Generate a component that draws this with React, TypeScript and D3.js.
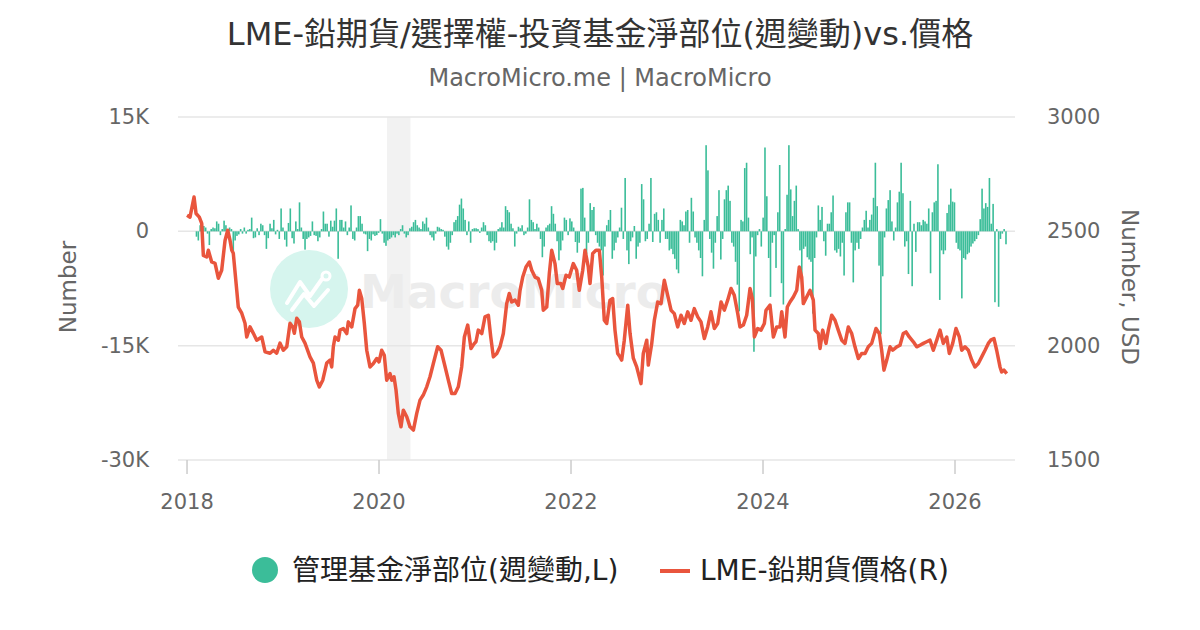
import * as d3 from "d3";

const title = "LME-鉛期貨/選擇權-投資基金淨部位(週變動)vs.價格";
const subtitle = "MacroMicro.me | MacroMicro";
const barName = "管理基金淨部位(週變動,L)";
const lineName = "LME-鉛期貨價格(R)";

// weekly net position change of managed funds, in thousands of contracts
const barStart = "2018-02-06";
const bars2018 = [-0.7, -1.2, 0.8, 0.6, 0.7, 0.5, -0.3, -1.8, 0.3, 0.5, 0.4, 1.3, 1.0, -0.5, 0.3, 1.4, 0.8, -0.2, 0.5, 0.3, -2.9, -1.2, -0.6, -0.4, 0.3, -0.3, 0.5, -0.3, 0.2, 0.3, 1.8, -0.9, -0.8, 0.4, -0.5, 1.0, 0.8, -0.5, -2.3, -0.9, 1.0, 0.4, 1.5, -0.4, 0.2, -1.0, 3.0];
const bars2019 = [0.5, -1.1, -2.0, 1.1, 3.0, -0.9, -1.6, 1.3, 0.3, 3.8, 0.5, -1.0, -2.4, -1.0, -0.8, -0.6, 1.3, -0.5, -0.6, -1.3, -0.8, 0.3, 2.6, 1.0, 1.0, -0.7, 1.4, 0.6, 1.4, 3.0, -3.6, 1.5, 1.5, 0.5, 1.3, -0.5, 0.5, 3.4, -1.0, -1.2, 0.5, 2.0, 2.0, 1.0, -0.3, -0.4, -2.6, -1.0, -1.2, -0.4, -0.6, -0.5];
const bars2020 = [-0.2, 1.6, -0.3, -1.5, -1.9, -1.2, -1.0, -0.8, -0.5, -0.8, -0.3, -0.5, 0.3, 0.8, -0.3, -0.8, -0.5, 0.4, 0.6, 1.2, 1.5, 0.8, 0.5, 0.3, 1.3, 1.0, 1.8, 0.5, -0.5, -0.8, -1.2, -0.3, 0.6, 0.5, 0.3, 0.2, -0.7, -2.0, -2.4, -1.5, -0.5, 1.2, 1.5, 2.0, 3.5, 4.3, 3.0, 1.5, -0.5, 1.3, -1.5, 0.3];
const bars2021 = [0.4, 0.4, 0.3, -0.2, 0.5, 1.2, 0.8, -0.5, -1.3, -1.5, -1.3, -2.5, -1.5, 0.3, 0.5, 1.2, 0.5, 3.3, 2.8, 2.5, 1.0, 0.4, -2.0, -0.3, 0.6, 0.4, 0.8, -0.5, -0.3, 0.5, 4.2, 1.5, 1.2, 0.3, 1.0, 0.5, -1.0, -3.4, -2.0, 0.5, 0.8, 1.0, 3.3, 2.3, 1.0, -1.3, -3.8, -2.5, -1.2, 1.8, 1.5, -0.5];
const bars2022 = [1.7, 1.3, 0.5, -1.4, -2.8, -1.5, 5.6, 5.7, 1.8, -3.0, -1.5, 3.7, 2.8, 3.2, -0.5, -1.5, -2.0, -2.5, -5.8, -2.0, 0.8, 1.5, 2.8, -3.6, -2.5, -1.5, -0.8, 0.5, 3.1, -1.0, 7.0, -2.5, -4.3, -1.3, -0.8, 0.7, -3.6, -2.0, -1.5, 6.2, 4.2, -1.3, -1.0, 1.0, 7.0, -1.4, 2.3, 2.5, 1.5, -1.5, 1.5, 3.0];
const bars2023 = [-1.0, -1.0, -2.5, -2.3, -3.0, -3.6, -5.0, -5.5, 1.5, 1.3, 0.8, 2.6, 2.8, -1.5, 4.4, 2.6, -0.8, -1.5, -2.5, -3.5, -5.9, 1.5, 11.3, 8.0, -1.0, -2.8, -4.9, -1.5, 2.0, 5.4, -3.7, -1.0, 4.2, 5.4, 6.0, 4.0, -1.5, -2.0, -4.0, -7.0, -10.5, 1.5, 1.3, 8.3, 9.0, 1.8, -3.0, -0.8, -15.8, -3.3, -0.5, 0.3];
const bars2024 = [-2.0, 1.8, 11.0, 4.6, -3.5, -8.6, -1.5, -0.5, -4.8, 2.5, 8.7, -6.8, -9.6, 0.3, 4.8, 11.3, 5.5, 2.0, 4.0, 6.0, 0.3, -2.5, -6.3, -2.3, -2.0, -3.4, -3.7, -4.0, -10.8, -3.5, -0.8, 3.4, 1.5, 3.2, -1.3, -3.2, 1.0, 1.0, 2.5, 4.7, -2.5, -2.8, -2.3, -3.3, -1.5, -5.8, 2.5, 3.8, 3.8, -1.5, -6.7, -2.5];
const bars2025 = [-1.5, -2.3, -1.0, 0.5, 1.5, 2.7, 0.5, 1.5, 2.2, 4.4, 9.0, 3.3, -4.5, -13.5, -5.9, -0.8, 3.0, 4.1, 5.4, 1.3, -1.2, 0.5, 3.8, 5.2, 9.0, 5.0, -2.0, -1.3, -5.6, 4.0, -7.2, 1.0, -2.7, 1.2, 1.2, 0.8, 1.5, 1.3, 1.0, 3.0, -5.5, 2.5, 3.8, 4.0, 8.8, -9.0, -2.5, -3.0, -2.5, 2.4, 3.5, 5.6];
const bars2026 = [3.9, 3.8, -1.5, -2.3, -2.5, -8.8, -3.5, -3.7, -3.0, -2.8, -2.0, -1.6, -1.3, -1.0, -0.5, 1.6, 5.6, 3.0, 3.7, 3.2, 7.0, 1.0, 3.6, -9.3, 0.3, -9.9, -1.0, -0.3, 0.3, -1.7];

// LME lead price, USD: [decimal year, price]
const leadPrice: [number, number][] = [
  [2018.000, 2570], [2018.031, 2562], [2018.073, 2650], [2018.094, 2578], [2018.128, 2562], [2018.153, 2535], [2018.170, 2395], [2018.205, 2388], [2018.222, 2417], [2018.257, 2366], [2018.292, 2360], [2018.326, 2295], [2018.361, 2330], [2018.396, 2460], [2018.424, 2505], [2018.448, 2460], [2018.466, 2417], [2018.482, 2404], [2018.518, 2242], [2018.534, 2169], [2018.570, 2142], [2018.604, 2098], [2018.622, 2038], [2018.656, 2082], [2018.691, 2054], [2018.726, 2024], [2018.778, 2038], [2018.813, 1973], [2018.865, 1967], [2018.899, 1980], [2018.934, 1967], [2018.969, 2011],
  [2019.003, 1980], [2019.039, 1995], [2019.073, 2098], [2019.101, 2082], [2019.118, 2054], [2019.143, 2120], [2019.170, 2104], [2019.195, 2038], [2019.229, 2011], [2019.281, 1951], [2019.316, 1924], [2019.351, 1849], [2019.378, 1820], [2019.414, 1849], [2019.455, 1924], [2019.490, 1937], [2019.507, 1907], [2019.524, 1995], [2019.542, 2038], [2019.576, 2024], [2019.594, 2068], [2019.628, 2075], [2019.664, 2053], [2019.680, 2104], [2019.716, 2082], [2019.750, 2162], [2019.778, 2177], [2019.795, 2242], [2019.820, 2206], [2019.847, 2097], [2019.872, 1980], [2019.906, 1907], [2019.941, 1922], [2019.976, 1944],
  [2020.000, 1929], [2020.028, 1980], [2020.055, 1958], [2020.080, 1849], [2020.115, 1878], [2020.132, 1849], [2020.156, 1864], [2020.177, 1806], [2020.201, 1704], [2020.229, 1645], [2020.253, 1718], [2020.289, 1689], [2020.323, 1645], [2020.358, 1631], [2020.393, 1704], [2020.427, 1762], [2020.461, 1784], [2020.497, 1820], [2020.531, 1864], [2020.566, 1922], [2020.611, 1995], [2020.646, 1980], [2020.680, 1922], [2020.722, 1849], [2020.757, 1791], [2020.792, 1791], [2020.826, 1820], [2020.861, 1907], [2020.889, 2038], [2020.924, 2090], [2020.958, 1988], [2020.993, 2010],
  [2021.010, 2017], [2021.034, 2068], [2021.070, 2053], [2021.104, 2126], [2021.139, 2133], [2021.164, 2038], [2021.191, 1951], [2021.227, 1966], [2021.260, 1995], [2021.295, 2053], [2021.330, 2184], [2021.357, 2228], [2021.382, 2191], [2021.417, 2199], [2021.451, 2177], [2021.469, 2242], [2021.497, 2300], [2021.531, 2344], [2021.566, 2366], [2021.591, 2330], [2021.625, 2300], [2021.659, 2293], [2021.695, 2242], [2021.711, 2155], [2021.747, 2169], [2021.774, 2315], [2021.799, 2417], [2021.833, 2359], [2021.857, 2272], [2021.893, 2272], [2021.914, 2250], [2021.948, 2308], [2021.982, 2300],
  [2022.024, 2359], [2022.059, 2330], [2022.086, 2242], [2022.122, 2330], [2022.146, 2417], [2022.180, 2344], [2022.198, 2272], [2022.226, 2403], [2022.260, 2417], [2022.295, 2417], [2022.320, 2300], [2022.347, 2111], [2022.372, 2097], [2022.406, 2199], [2022.434, 2206], [2022.458, 2068], [2022.486, 1966], [2022.510, 1951], [2022.528, 1937], [2022.555, 2024], [2022.591, 2177], [2022.615, 2053], [2022.649, 1945], [2022.684, 1907], [2022.729, 1834], [2022.753, 1966], [2022.789, 2024], [2022.805, 1915], [2022.841, 2010], [2022.868, 2111], [2022.903, 2191], [2022.938, 2184], [2022.972, 2286],
  [2023.007, 2220], [2023.042, 2155], [2023.076, 2140], [2023.111, 2082], [2023.146, 2133], [2023.180, 2097], [2023.216, 2148], [2023.250, 2111], [2023.284, 2162], [2023.320, 2126], [2023.354, 2104], [2023.389, 2031], [2023.424, 2082], [2023.458, 2148], [2023.493, 2075], [2023.528, 2097], [2023.563, 2191], [2023.597, 2155], [2023.632, 2199], [2023.667, 2250], [2023.701, 2220], [2023.737, 2140], [2023.760, 2082], [2023.795, 2090], [2023.830, 2133], [2023.865, 2250], [2023.889, 2206], [2023.910, 2038], [2023.945, 2075], [2023.979, 2068],
  [2024.014, 2097], [2024.031, 2155], [2024.073, 2177], [2024.108, 2038], [2024.143, 2082], [2024.177, 2082], [2024.195, 2148], [2024.229, 2038], [2024.253, 2169], [2024.281, 2191], [2024.316, 2213], [2024.351, 2242], [2024.378, 2344], [2024.403, 2300], [2024.420, 2184], [2024.455, 2213], [2024.490, 2242], [2024.524, 2199], [2024.542, 2068], [2024.576, 2053], [2024.594, 1988], [2024.622, 2068], [2024.656, 2010], [2024.680, 2068], [2024.716, 2133], [2024.750, 2111], [2024.784, 2068], [2024.820, 2024], [2024.854, 2010], [2024.889, 2082], [2024.924, 2053], [2024.958, 1995], [2024.993, 1944],
  [2025.028, 1966], [2025.063, 1966], [2025.097, 1995], [2025.132, 2010], [2025.177, 2075], [2025.211, 2053], [2025.236, 1980], [2025.260, 1893], [2025.289, 1937], [2025.323, 1995], [2025.351, 1980], [2025.393, 1995], [2025.427, 2002], [2025.461, 2053], [2025.490, 2060], [2025.524, 2038], [2025.566, 2017], [2025.601, 1995], [2025.635, 2002], [2025.670, 2010], [2025.705, 2017], [2025.740, 2024], [2025.774, 1980], [2025.810, 2024], [2025.844, 2068], [2025.878, 2010], [2025.914, 2038], [2025.941, 1966], [2025.976, 2010],
  [2026.010, 2075], [2026.045, 2038], [2026.070, 1980], [2026.104, 1995], [2026.139, 1980], [2026.174, 1937], [2026.208, 1907], [2026.243, 1922], [2026.278, 1951], [2026.313, 1980], [2026.347, 2010], [2026.372, 2024], [2026.406, 2031], [2026.434, 1980], [2026.469, 1907], [2026.486, 1885], [2026.510, 1893], [2026.539, 1878],
];

const leftTicks = [-30000, -15000, 0, 15000];
const leftTickLabels = ["-30K", "-15K", "0", "15K"];
const rightTicks = [1500, 2000, 2500, 3000];
const xTicks = [2018, 2020, 2022, 2024, 2026];
const recession = ["2020-02-01", "2020-04-30"];

const W = 1200;
const H = 630;
const plot = { left: 178, right: 1015, top: 117, bottom: 460 };
const green = "#3bbd99";
const red = "#e9553d";
const font = "'DejaVu Sans', 'Noto Sans CJK TC', sans-serif";

const toYear = (d: Date) => 2018 + (d.getTime() - Date.UTC(2018, 0, 1)) / (365.25 * 864e5);

export default function App() {
  const x = d3.scaleLinear().domain([2017.906, 2026.625]).range([plot.left, plot.right]);
  const yL = d3.scaleLinear().domain([-30000, 15000]).range([plot.bottom, plot.top]);
  const yR = d3.scaleLinear().domain([1500, 3000]).range([plot.bottom, plot.top]);

  const start = new Date(barStart + "T00:00:00Z");
  const barValues = [...bars2018, ...bars2019, ...bars2020, ...bars2021, ...bars2022, ...bars2023, ...bars2024, ...bars2025, ...bars2026];
  const bars = barValues.map((v, i) => ({ t: toYear(d3.utcWeek.offset(start, i)), v: v * 1000 }));

  const line = d3
    .line<[number, number]>()
    .x((d) => x(d[0]))
    .y((d) => yR(d[1]));

  const r0 = x(toYear(new Date(recession[0] + "T00:00:00Z")));
  const r1 = x(toYear(new Date(recession[1] + "T00:00:00Z")));

  return (
    <svg width={W} height={H} style={{ position: "absolute", left: 0, top: 0, background: "#fff" }} fontFamily={font}>
      <rect width={W} height={H} fill="#fff" />
      <text x={600} y={45} textAnchor="middle" fontSize={32} fill="#333">{title}</text>
      <text x={600} y={86} textAnchor="middle" fontSize={24} fill="#666">{subtitle}</text>

      <rect x={r0} y={plot.top} width={r1 - r0} height={plot.bottom - plot.top} fill="#f2f2f2" />

      {leftTicks.map((t) => (
        <line key={t} x1={plot.left} x2={plot.right} y1={yL(t)} y2={yL(t)} stroke="#e6e6e6" strokeWidth={1.5} />
      ))}

      {/* watermark */}
      <g>
        <circle cx={309} cy={289} r={39} fill="#d6f5ee" />
        <polyline points="287,303 300,282 310,296 322,279" fill="none" stroke="#fff" strokeWidth={4} strokeLinejoin="round" strokeLinecap="round" />
        <polyline points="292,310 304,294 314,306 328,290" fill="none" stroke="#fff" strokeWidth={4} strokeLinejoin="round" strokeLinecap="round" />
        <circle cx={326} cy={276} r={4} fill="none" stroke="#fff" strokeWidth={3} />
        <text x={360} y={308} fontSize={47} fontWeight="bold" fill="#ececec">MacroMicro</text>
      </g>

      {bars.map((b, i) => (
        <rect
          key={i}
          x={x(b.t) - 0.8}
          y={Math.min(yL(b.v), yL(0))}
          width={1.6}
          height={Math.abs(yL(b.v) - yL(0))}
          fill={green}
        />
      ))}

      <path d={line(leadPrice) ?? ""} fill="none" stroke={red} strokeWidth={3.5} strokeLinejoin="round" />

      {xTicks.map((t) => (
        <g key={t}>
          <line x1={x(t)} x2={x(t)} y1={plot.bottom} y2={plot.bottom + 14} stroke="#ccc" strokeWidth={1.5} />
          <text x={x(t)} y={509} textAnchor="middle" fontSize={21} fill="#666">{t}</text>
        </g>
      ))}

      {leftTicks.map((t, i) => (
        <text key={t} x={149} y={yL(t) + 7} textAnchor="end" fontSize={21} fill="#666">{leftTickLabels[i]}</text>
      ))}
      {rightTicks.map((t) => (
        <text key={t} x={1047} y={yR(t) + 7} textAnchor="start" fontSize={21} fill="#666">{t}</text>
      ))}

      <text transform="translate(76,287) rotate(-90)" textAnchor="middle" fontSize={23} fill="#666">Number</text>
      <text transform="translate(1122,287) rotate(90)" textAnchor="middle" fontSize={23} fill="#666">Number, USD</text>

      <circle cx={265} cy={570} r={13} fill={green} />
      <text x={292} y={580} fontSize={28} fill="#222">{barName}</text>
      <line x1={660} x2={690} y1={571} y2={571} stroke={red} strokeWidth={4} />
      <text x={700} y={580} fontSize={28} fill="#222">{lineName}</text>
    </svg>
  );
}
